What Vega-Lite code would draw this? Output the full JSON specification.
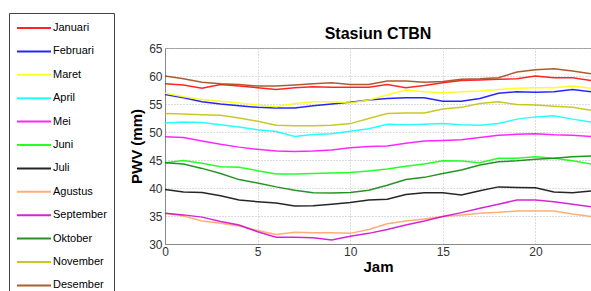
{
  "$schema": "https://vega.github.io/schema/vega-lite/v6.json",
  "width": 426,
  "height": 196,
  "autosize": "none",
  "padding": {"left": 165, "top": 48, "right": 0, "bottom": 47},
  "background": "white",
  "config": {
    "font": "Liberation Sans",
    "view": {"stroke": "#999", "strokeWidth": 1}
  },
  "title": {"text": "Stasiun CTBN", "frame": "group", "fontSize": 16, "fontWeight": "bold", "color": "#000", "offset": 9, "dy": 38, "font": "Liberation Sans"},
  "data": {"values": [
    {"m":"Januari","h":0,"v":58.6},{"m":"Januari","h":1,"v":58.4},{"m":"Januari","h":2,"v":57.8},{"m":"Januari","h":3,"v":58.5},{"m":"Januari","h":4,"v":58.2},{"m":"Januari","h":5,"v":57.9},{"m":"Januari","h":6,"v":57.6},{"m":"Januari","h":7,"v":57.9},{"m":"Januari","h":8,"v":58.1},{"m":"Januari","h":9,"v":58.0},{"m":"Januari","h":10,"v":58.0},{"m":"Januari","h":11,"v":58.0},{"m":"Januari","h":12,"v":58.5},{"m":"Januari","h":13,"v":57.9},{"m":"Januari","h":14,"v":58.3},{"m":"Januari","h":15,"v":58.8},{"m":"Januari","h":16,"v":59.2},{"m":"Januari","h":17,"v":59.3},{"m":"Januari","h":18,"v":59.4},{"m":"Januari","h":19,"v":59.5},{"m":"Januari","h":20,"v":60.0},{"m":"Januari","h":21,"v":59.7},{"m":"Januari","h":22,"v":59.7},{"m":"Januari","h":23,"v":59.2},
    {"m":"Februari","h":0,"v":56.7},{"m":"Februari","h":1,"v":56.1},{"m":"Februari","h":2,"v":55.4},{"m":"Februari","h":3,"v":55.0},{"m":"Februari","h":4,"v":54.7},{"m":"Februari","h":5,"v":54.4},{"m":"Februari","h":6,"v":54.3},{"m":"Februari","h":7,"v":54.3},{"m":"Februari","h":8,"v":54.7},{"m":"Februari","h":9,"v":55.0},{"m":"Februari","h":10,"v":55.3},{"m":"Februari","h":11,"v":55.7},{"m":"Februari","h":12,"v":56.0},{"m":"Februari","h":13,"v":56.1},{"m":"Februari","h":14,"v":56.1},{"m":"Februari","h":15,"v":55.5},{"m":"Februari","h":16,"v":55.5},{"m":"Februari","h":17,"v":56.0},{"m":"Februari","h":18,"v":56.9},{"m":"Februari","h":19,"v":57.2},{"m":"Februari","h":20,"v":57.1},{"m":"Februari","h":21,"v":57.2},{"m":"Februari","h":22,"v":57.6},{"m":"Februari","h":23,"v":57.2},
    {"m":"Maret","h":0,"v":56.9},{"m":"Maret","h":1,"v":56.3},{"m":"Maret","h":2,"v":55.8},{"m":"Maret","h":3,"v":55.5},{"m":"Maret","h":4,"v":55.2},{"m":"Maret","h":5,"v":54.8},{"m":"Maret","h":6,"v":54.5},{"m":"Maret","h":7,"v":55.1},{"m":"Maret","h":8,"v":55.4},{"m":"Maret","h":9,"v":55.4},{"m":"Maret","h":10,"v":55.2},{"m":"Maret","h":11,"v":55.7},{"m":"Maret","h":12,"v":56.6},{"m":"Maret","h":13,"v":57.5},{"m":"Maret","h":14,"v":57.2},{"m":"Maret","h":15,"v":57.0},{"m":"Maret","h":16,"v":57.2},{"m":"Maret","h":17,"v":57.3},{"m":"Maret","h":18,"v":57.6},{"m":"Maret","h":19,"v":57.8},{"m":"Maret","h":20,"v":57.9},{"m":"Maret","h":21,"v":57.9},{"m":"Maret","h":22,"v":58.2},{"m":"Maret","h":23,"v":57.8},
    {"m":"April","h":0,"v":51.6},{"m":"April","h":1,"v":51.8},{"m":"April","h":2,"v":51.7},{"m":"April","h":3,"v":51.3},{"m":"April","h":4,"v":50.9},{"m":"April","h":5,"v":50.4},{"m":"April","h":6,"v":50.1},{"m":"April","h":7,"v":49.2},{"m":"April","h":8,"v":49.55},{"m":"April","h":9,"v":49.7},{"m":"April","h":10,"v":50.15},{"m":"April","h":11,"v":50.6},{"m":"April","h":12,"v":51.4},{"m":"April","h":13,"v":51.3},{"m":"April","h":14,"v":51.4},{"m":"April","h":15,"v":51.5},{"m":"April","h":16,"v":51.3},{"m":"April","h":17,"v":51.2},{"m":"April","h":18,"v":51.5},{"m":"April","h":19,"v":52.3},{"m":"April","h":20,"v":52.7},{"m":"April","h":21,"v":52.9},{"m":"April","h":22,"v":52.3},{"m":"April","h":23,"v":51.8},
    {"m":"Mei","h":0,"v":49.15},{"m":"Mei","h":1,"v":49.0},{"m":"Mei","h":2,"v":48.4},{"m":"Mei","h":3,"v":47.8},{"m":"Mei","h":4,"v":47.3},{"m":"Mei","h":5,"v":46.9},{"m":"Mei","h":6,"v":46.6},{"m":"Mei","h":7,"v":46.5},{"m":"Mei","h":8,"v":46.6},{"m":"Mei","h":9,"v":46.8},{"m":"Mei","h":10,"v":47.2},{"m":"Mei","h":11,"v":47.4},{"m":"Mei","h":12,"v":47.5},{"m":"Mei","h":13,"v":48.0},{"m":"Mei","h":14,"v":48.4},{"m":"Mei","h":15,"v":48.5},{"m":"Mei","h":16,"v":48.6},{"m":"Mei","h":17,"v":49.0},{"m":"Mei","h":18,"v":49.4},{"m":"Mei","h":19,"v":49.6},{"m":"Mei","h":20,"v":49.7},{"m":"Mei","h":21,"v":49.5},{"m":"Mei","h":22,"v":49.4},{"m":"Mei","h":23,"v":49.2},
    {"m":"Juni","h":0,"v":44.5},{"m":"Juni","h":1,"v":44.9},{"m":"Juni","h":2,"v":44.4},{"m":"Juni","h":3,"v":43.8},{"m":"Juni","h":4,"v":43.7},{"m":"Juni","h":5,"v":43.1},{"m":"Juni","h":6,"v":42.5},{"m":"Juni","h":7,"v":42.5},{"m":"Juni","h":8,"v":42.6},{"m":"Juni","h":9,"v":42.7},{"m":"Juni","h":10,"v":42.75},{"m":"Juni","h":11,"v":43.05},{"m":"Juni","h":12,"v":43.4},{"m":"Juni","h":13,"v":43.9},{"m":"Juni","h":14,"v":44.3},{"m":"Juni","h":15,"v":44.85},{"m":"Juni","h":16,"v":44.8},{"m":"Juni","h":17,"v":44.5},{"m":"Juni","h":18,"v":45.3},{"m":"Juni","h":19,"v":45.3},{"m":"Juni","h":20,"v":45.6},{"m":"Juni","h":21,"v":45.3},{"m":"Juni","h":22,"v":44.85},{"m":"Juni","h":23,"v":44.3},
    {"m":"Juli","h":0,"v":39.75},{"m":"Juli","h":1,"v":39.3},{"m":"Juli","h":2,"v":39.2},{"m":"Juli","h":3,"v":38.6},{"m":"Juli","h":4,"v":37.85},{"m":"Juli","h":5,"v":37.55},{"m":"Juli","h":6,"v":37.3},{"m":"Juli","h":7,"v":36.8},{"m":"Juli","h":8,"v":36.85},{"m":"Juli","h":9,"v":37.1},{"m":"Juli","h":10,"v":37.4},{"m":"Juli","h":11,"v":37.85},{"m":"Juli","h":12,"v":38.0},{"m":"Juli","h":13,"v":38.85},{"m":"Juli","h":14,"v":39.15},{"m":"Juli","h":15,"v":39.15},{"m":"Juli","h":16,"v":38.75},{"m":"Juli","h":17,"v":39.5},{"m":"Juli","h":18,"v":40.2},{"m":"Juli","h":19,"v":40.1},{"m":"Juli","h":20,"v":40.05},{"m":"Juli","h":21,"v":39.3},{"m":"Juli","h":22,"v":39.15},{"m":"Juli","h":23,"v":39.45},
    {"m":"Agustus","h":0,"v":35.5},{"m":"Agustus","h":1,"v":35.0},{"m":"Agustus","h":2,"v":34.1},{"m":"Agustus","h":3,"v":33.7},{"m":"Agustus","h":4,"v":33.2},{"m":"Agustus","h":5,"v":32.4},{"m":"Agustus","h":6,"v":31.7},{"m":"Agustus","h":7,"v":32.1},{"m":"Agustus","h":8,"v":32.0},{"m":"Agustus","h":9,"v":32.0},{"m":"Agustus","h":10,"v":31.9},{"m":"Agustus","h":11,"v":32.6},{"m":"Agustus","h":12,"v":33.6},{"m":"Agustus","h":13,"v":34.1},{"m":"Agustus","h":14,"v":34.45},{"m":"Agustus","h":15,"v":34.9},{"m":"Agustus","h":16,"v":35.2},{"m":"Agustus","h":17,"v":35.5},{"m":"Agustus","h":18,"v":35.65},{"m":"Agustus","h":19,"v":35.9},{"m":"Agustus","h":20,"v":35.9},{"m":"Agustus","h":21,"v":35.9},{"m":"Agustus","h":22,"v":35.35},{"m":"Agustus","h":23,"v":34.9},
    {"m":"September","h":0,"v":35.5},{"m":"September","h":1,"v":35.2},{"m":"September","h":2,"v":34.8},{"m":"September","h":3,"v":34.0},{"m":"September","h":4,"v":33.4},{"m":"September","h":5,"v":32.2},{"m":"September","h":6,"v":31.2},{"m":"September","h":7,"v":31.2},{"m":"September","h":8,"v":31.1},{"m":"September","h":9,"v":30.7},{"m":"September","h":10,"v":31.4},{"m":"September","h":11,"v":31.9},{"m":"September","h":12,"v":32.6},{"m":"September","h":13,"v":33.4},{"m":"September","h":14,"v":34.1},{"m":"September","h":15,"v":34.9},{"m":"September","h":16,"v":35.6},{"m":"September","h":17,"v":36.4},{"m":"September","h":18,"v":37.1},{"m":"September","h":19,"v":37.85},{"m":"September","h":20,"v":37.85},{"m":"September","h":21,"v":37.55},{"m":"September","h":22,"v":37.1},{"m":"September","h":23,"v":36.65},
    {"m":"Oktober","h":0,"v":44.5},{"m":"Oktober","h":1,"v":44.3},{"m":"Oktober","h":2,"v":43.5},{"m":"Oktober","h":3,"v":42.6},{"m":"Oktober","h":4,"v":41.5},{"m":"Oktober","h":5,"v":40.9},{"m":"Oktober","h":6,"v":40.2},{"m":"Oktober","h":7,"v":39.6},{"m":"Oktober","h":8,"v":39.15},{"m":"Oktober","h":9,"v":39.1},{"m":"Oktober","h":10,"v":39.2},{"m":"Oktober","h":11,"v":39.6},{"m":"Oktober","h":12,"v":40.5},{"m":"Oktober","h":13,"v":41.5},{"m":"Oktober","h":14,"v":41.9},{"m":"Oktober","h":15,"v":42.6},{"m":"Oktober","h":16,"v":43.2},{"m":"Oktober","h":17,"v":44.1},{"m":"Oktober","h":18,"v":44.7},{"m":"Oktober","h":19,"v":44.85},{"m":"Oktober","h":20,"v":45.15},{"m":"Oktober","h":21,"v":45.3},{"m":"Oktober","h":22,"v":45.6},{"m":"Oktober","h":23,"v":45.7},
    {"m":"November","h":0,"v":53.3},{"m":"November","h":1,"v":53.2},{"m":"November","h":2,"v":53.1},{"m":"November","h":3,"v":53.0},{"m":"November","h":4,"v":52.5},{"m":"November","h":5,"v":51.9},{"m":"November","h":6,"v":51.2},{"m":"November","h":7,"v":51.1},{"m":"November","h":8,"v":51.1},{"m":"November","h":9,"v":51.2},{"m":"November","h":10,"v":51.5},{"m":"November","h":11,"v":52.4},{"m":"November","h":12,"v":53.3},{"m":"November","h":13,"v":53.4},{"m":"November","h":14,"v":53.4},{"m":"November","h":15,"v":54.1},{"m":"November","h":16,"v":54.4},{"m":"November","h":17,"v":55.1},{"m":"November","h":18,"v":55.4},{"m":"November","h":19,"v":54.9},{"m":"November","h":20,"v":54.8},{"m":"November","h":21,"v":54.6},{"m":"November","h":22,"v":54.4},{"m":"November","h":23,"v":53.9},
    {"m":"Desember","h":0,"v":60.0},{"m":"Desember","h":1,"v":59.5},{"m":"Desember","h":2,"v":58.9},{"m":"Desember","h":3,"v":58.6},{"m":"Desember","h":4,"v":58.5},{"m":"Desember","h":5,"v":58.2},{"m":"Desember","h":6,"v":58.2},{"m":"Desember","h":7,"v":58.4},{"m":"Desember","h":8,"v":58.6},{"m":"Desember","h":9,"v":58.8},{"m":"Desember","h":10,"v":58.5},{"m":"Desember","h":11,"v":58.5},{"m":"Desember","h":12,"v":59.1},{"m":"Desember","h":13,"v":59.1},{"m":"Desember","h":14,"v":58.9},{"m":"Desember","h":15,"v":59.0},{"m":"Desember","h":16,"v":59.4},{"m":"Desember","h":17,"v":59.5},{"m":"Desember","h":18,"v":59.7},{"m":"Desember","h":19,"v":60.7},{"m":"Desember","h":20,"v":61.1},{"m":"Desember","h":21,"v":61.3},{"m":"Desember","h":22,"v":60.9},{"m":"Desember","h":23,"v":60.4}
  ]},
  "mark": {"type": "line", "strokeWidth": 1.5, "opacity": 0.85, "clip": true},
  "encoding": {
    "x": {
      "field": "h", "type": "quantitative",
      "scale": {"domain": [0, 23], "nice": false, "zero": false},
      "axis": {"title": "Jam", "values": [0, 5, 10, 15, 20], "titleFontSize": 15, "titleFontWeight": "bold", "titleColor": "#000", "titlePadding": 2, "labelFontSize": 12, "labelColor": "#333", "labelPadding": 2, "ticks": false, "domainColor": "#888", "grid": true, "gridColor": "#bbb", "gridDash": [1, 2], "gridOpacity": 1, "labelFlush": false}
    },
    "y": {
      "field": "v", "type": "quantitative",
      "scale": {"domain": [30, 65], "nice": false, "zero": false},
      "axis": {"title": "PWV (mm)", "values": [30, 35, 40, 45, 50, 55, 60, 65], "titleFontSize": 15, "titleFontWeight": "bold", "titleColor": "#000", "titlePadding": 4, "labelFontSize": 12, "labelColor": "#333", "labelPadding": 3, "ticks": false, "domainColor": "#888", "grid": true, "gridColor": "#bbb", "gridDash": [1, 2], "gridOpacity": 1, "labelFlush": false}
    },
    "color": {
      "field": "m", "type": "nominal",
      "sort": ["Januari","Februari","Maret","April","Mei","Juni","Juli","Agustus","September","Oktober","November","Desember"],
      "scale": {
        "domain": ["Januari","Februari","Maret","April","Mei","Juni","Juli","Agustus","September","Oktober","November","Desember"],
        "range": ["#ff0000","#0000ff","#ffff00","#00ffff","#ff00ff","#00ff00","#000000","#ffa060","#cc00cc","#008000","#bfbf00","#a0400a"]
      },
      "legend": {
        "title": null,
        "orient": "none",
        "legendX": -156,
        "legendY": -35,
        "symbolType": "M-2.5,0H2.5",
        "symbolSize": 185,
        "symbolStrokeWidth": 2,
        "symbolOffset": 10,
        "labelFontSize": 11,
        "labelColor": "#000",
        "labelFont": "Liberation Sans",
        "labelOffset": 11,
        "rowPadding": 10.4,
        "padding": 7,
        "strokeColor": "#444",
        "fillColor": "white",
        "cornerRadius": 0
      }
    }
  }
}
